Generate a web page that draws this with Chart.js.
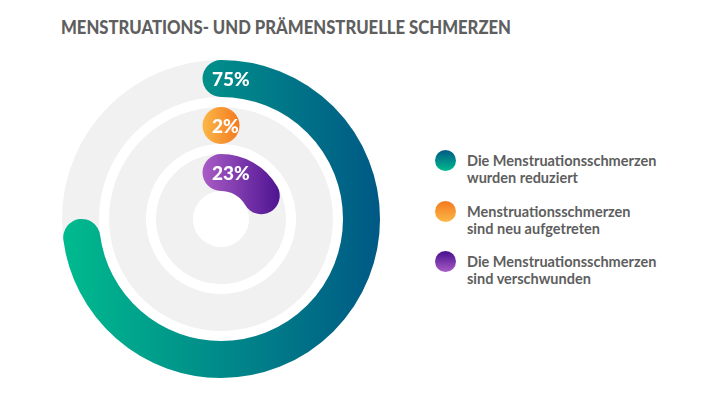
<!DOCTYPE html>
<html lang="de">
<head>
<meta charset="utf-8">
<script src="https://cdn.jsdelivr.net/npm/chart.js@4.4.1/dist/chart.umd.min.js"></script>
<style>
    body { margin: 0; width: 720px; height: 397px; background: #fff; position: relative; overflow: hidden; font-family: Lato, "Open Sans", sans-serif; }
    #titel { position: absolute; left: 61px; top: 15px; font-weight: 900; font-size: 19.5px; color: #5f5f5f; white-space: nowrap; transform-origin: left top; }
    #chartBox { position: absolute; left: 62px; top: 60px; width: 318px; height: 318px; }
    .eintrag { position: absolute; left: 435px; display: flex; align-items: flex-start; }
    .punkt { width: 21px; height: 21px; border-radius: 50%; margin-right: 11px; flex: none; }
    .text { font-weight: 700; font-size: 14.5px; line-height: 17px; color: #5e5e5e; margin-top: 2px; white-space: pre; }
</style>
</head>
<body>
<div id="titel">MENSTRUATIONS- UND PRÄMENSTRUELLE SCHMERZEN</div>
<div id="chartBox"><canvas id="ringe" width="318" height="318"></canvas></div>
<script>
// Daten
const kategorien = [
    'Die Menstruationsschmerzen\nwurden reduziert',
    'Menstruationsschmerzen\nsind neu aufgetreten',
    'Die Menstruationsschmerzen\nsind verschwunden'
];
const werte = [75, 2, 23];
const wertLabels = ['75%', '2%', '23%'];

// Farben (Verlauf links -> rechts)
const verlaufLinks = ['#00bb8e', '#fbb848', '#a95cc5'];
const verlaufRechts = ['#005985', '#f47920', '#470e8e'];
const spurFarbe = '#f1f1f1';

// Ringe + weisse Abstaende dazwischen
let datasets = [];
let ringIndex = [];
werte.forEach((w, i) => {
    if (i > 0) {
        datasets.push({ data: [1], backgroundColor: 'transparent', weight: 10 });
    }
    ringIndex.push(datasets.length);
    datasets.push({
        label: kategorien[i],
        data: [w, 100 - w],
        backgroundColor: [spurFarbe, spurFarbe],
        weight: 37
    });
});

// Plugin zeichnet die farbigen Boegen mit runden Enden auf die graue Spur
const rundeBoegen = {
    id: 'rundeBoegen',
    afterDatasetsDraw(chart) {
        const ctx = chart.ctx;
        ringIndex.forEach((dsIdx, i) => {
            const arc = chart.getDatasetMeta(dsIdx).data[0];
            const r = (arc.innerRadius + arc.outerRadius) / 2;
            const breite = arc.outerRadius - arc.innerRadius;
            const kappe = (breite / 2) / r;
            const ende = Math.max(arc.startAngle, arc.endAngle - kappe);

            let grad = ctx.createLinearGradient(arc.x - arc.outerRadius, 0, arc.x + arc.outerRadius, 0);
            if (i === 1) {
                // kleiner Kreis: Verlauf nur ueber den Kreis
                grad = ctx.createLinearGradient(arc.x - breite / 2, 0, arc.x + breite / 2, 0);
            } else if (i === 2) {
                grad = ctx.createLinearGradient(arc.x - breite / 2, 0, arc.x + arc.outerRadius, 0);
            }
            grad.addColorStop(0, verlaufLinks[i]);
            grad.addColorStop(1, verlaufRechts[i]);

            ctx.save();
            if (ende - arc.startAngle < 0.001) {
                ctx.beginPath();
                ctx.arc(arc.x + Math.cos(arc.startAngle) * r, arc.y + Math.sin(arc.startAngle) * r, breite / 2, 0, Math.PI * 2);
                ctx.fillStyle = grad;
                ctx.fill();
            } else {
                ctx.beginPath();
                ctx.arc(arc.x, arc.y, r, arc.startAngle, ende);
                ctx.lineWidth = breite;
                ctx.lineCap = 'round';
                ctx.strokeStyle = grad;
                ctx.stroke();
            }

            // Prozentwert
            ctx.fillStyle = '#ffffff';
            ctx.font = '900 19px Lato';
            ctx.textAlign = 'left';
            ctx.textBaseline = 'middle';
            ctx.fillText(wertLabels[i], arc.x - 9, arc.y - r + 1);
            ctx.restore();
        });
    }
};

new Chart(document.getElementById('ringe'), {
    type: 'doughnut',
    data: { labels: ['Wert', 'Rest'], datasets: datasets },
    options: {
        responsive: false,
        animation: false,
        events: [],
        cutout: 28,
        borderWidth: 0,
        hoverOffset: 0,
        plugins: {
            legend: { display: false },
            tooltip: { enabled: false }
        }
    },
    plugins: [rundeBoegen]
});

// Legende
const legendeOben = [150, 201, 251];
kategorien.forEach((txt, i) => {
    let eintrag = document.createElement('div');
    eintrag.classList.add('eintrag');
    eintrag.style.top = legendeOben[i] + 'px';
    let punkt = document.createElement('div');
    punkt.classList.add('punkt');
    punkt.style.background = `linear-gradient(to bottom, ${verlaufRechts[i]}, ${verlaufLinks[i]})`;
    let text = document.createElement('div');
    text.classList.add('text');
    text.textContent = txt;
    eintrag.appendChild(punkt);
    eintrag.appendChild(text);
    document.body.appendChild(eintrag);
});

// Titelbreite anpassen
let titel = document.getElementById('titel');
let tBreite = titel.getBoundingClientRect().width;
titel.style.transform = `scaleX(${450 / tBreite})`;
</script>
</body>
</html>
